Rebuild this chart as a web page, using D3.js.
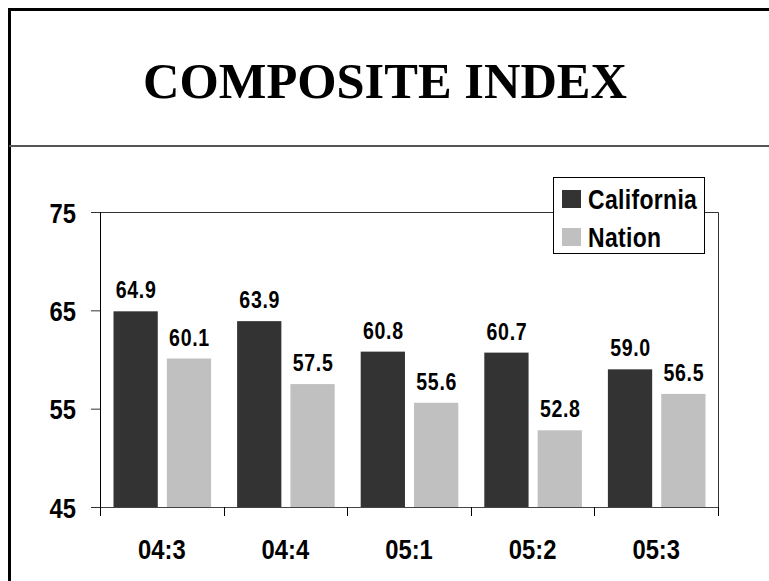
<!DOCTYPE html>
<html>
<head>
    <meta charset="UTF-8">
    <title>Composite Index</title>
    <style>
        body {
            margin: 0;
            background-color: white;
        }
        svg text {
            font-family: "Liberation Sans", Arial, sans-serif;
            font-weight: bold;
        }
    </style>
</head>
<body>
    <svg></svg>
    <script src="https://d3js.org/d3.v7.min.js"></script>
    <script>
        let quarters = ["04:3", "04:4", "05:1", "05:2", "05:3"]
        let seriesNames = ["California", "Nation"]
        let california = [64.9, 63.9, 60.8, 60.7, 59.0]
        let nation = [60.1, 57.5, 55.6, 52.8, 56.5]
        let yTicks = [45, 55, 65, 75]

        let colors = d3.scaleOrdinal(seriesNames, ["#333333", "#c0c0c0"])

        let width = 769, height = 581;
        let margin = { top: 212, right: 51, bottom: 74, left: 100 };
        let squeezeK = 0.85; // no narrow font installed, so squeeze sans horizontally

        let svg = d3.select("svg")
            .attr("width", width)
            .attr("height", height)

        // squeeze text horizontally around its own anchor point
        function squeeze(sel) {
            sel.each(function () {
                let t = d3.select(this)
                let x = +t.attr("x") || 0
                t.attr("x", x / squeezeK).attr("transform", "scale(" + squeezeK + ",1)")
            })
        }

        // outer frame and title divider
        svg.append("rect")
            .attr("x", 9.5).attr("y", 9.5)
            .attr("width", width + 20).attr("height", height + 20)
            .attr("fill", "none")
            .attr("stroke", "black")
            .attr("stroke-width", 3)

        svg.append("line")
            .attr("x1", 9).attr("x2", width)
            .attr("y1", 146).attr("y2", 146)
            .attr("stroke", "#555")
            .attr("stroke-width", 2)

        svg.append("text")
            .attr("x", 385).attr("y", 98)
            .attr("text-anchor", "middle")
            .style("font-family", "'Liberation Serif', 'Times New Roman', serif")
            .style("font-size", "50.5px")
            .text("COMPOSITE INDEX")

        let data = quarters.map((q, i) => ({ quarter: q, California: california[i], Nation: nation[i] }))

        let x0 = d3.scaleBand()
            .domain(quarters)
            .range([margin.left, width - margin.right])
            .paddingInner(0)
            .paddingOuter(0)

        let x1 = d3.scaleBand()
            .domain(seriesNames)
            .range([13.5, x0.bandwidth() - 12.5])
            .paddingInner(0.17)

        let y = d3.scaleLinear()
            .domain([45, 75])
            .range([height - margin.bottom, margin.top])

        // plot frame (top and right)
        svg.append("path")
            .attr("d", "M" + margin.left + "," + (margin.top + 0.5) + "H" + (width - margin.right + 0.5) + "V" + y(45))
            .attr("fill", "none")
            .attr("stroke", "#333")
            .attr("stroke-width", 1)

        // bars
        let groups = svg.append("g")
            .selectAll("g")
            .data(data)
            .enter()
            .append("g")
            .attr("transform", d => "translate(" + x0(d.quarter) + ",0)")

        groups.selectAll("rect")
            .data(d => seriesNames.map(s => ({ key: s, value: d[s] })))
            .enter()
            .append("rect")
            .attr("x", d => x1(d.key))
            .attr("y", d => y(d.value))
            .attr("width", x1.bandwidth())
            .attr("height", d => y(45) - y(d.value))
            .attr("fill", d => colors(d.key))

        groups.selectAll("text")
            .data(d => seriesNames.map(s => ({ key: s, value: d[s] })))
            .enter()
            .append("text")
            .attr("x", d => x1(d.key) + x1.bandwidth() / 2 + 0.5)
            .attr("y", d => y(d.value) - 13)
            .attr("text-anchor", "middle")
            .style("font-size", "23px")
            .style("letter-spacing", "0.8px")
            .text(d => d.value.toFixed(1))
            .call(squeeze)

        // axes
        let yAxis = svg.append("g")
            .attr("transform", "translate(" + margin.left + ",0)")
            .call(d3.axisLeft(y).tickValues(yTicks).tickSize(9).tickPadding(15))
        yAxis.select(".domain").attr("stroke", "black")
        yAxis.selectAll("line").attr("stroke", "#333")
        yAxis.selectAll("text")
            .attr("dy", "0.36em")
            .style("font-size", "28px")
            .attr("fill", "black")
            .call(squeeze)

        let xAxis = svg.append("g")
            .attr("transform", "translate(0," + y(45) + ")")
            .call(d3.axisBottom(x0).tickSize(0).tickPadding(32))
        xAxis.select(".domain").remove()
        xAxis.selectAll("text")
            .style("font-size", "28px")
            .attr("fill", "black")
            .call(squeeze)

        svg.append("line")
            .attr("x1", margin.left).attr("x2", width - margin.right + 0.5)
            .attr("y1", y(45) + 0.5).attr("y2", y(45) + 0.5)
            .attr("stroke", "#444")

        // tick marks at band boundaries
        let bounds = quarters.map(q => x0(q)).concat([width - margin.right])
        svg.append("g")
            .selectAll("line")
            .data(bounds)
            .enter()
            .append("line")
            .attr("x1", d => Math.round(d) + 0.5).attr("x2", d => Math.round(d) + 0.5)
            .attr("y1", y(45)).attr("y2", y(45) + 9)
            .attr("stroke", "black")

        // legend
        let legend = svg.append("g").attr("transform", "translate(553,177)")
        legend.append("rect")
            .attr("x", 0.5).attr("y", 0.5)
            .attr("width", 151).attr("height", 76)
            .attr("fill", "white")
            .attr("stroke", "black")
        let items = legend.selectAll(".item")
            .data(seriesNames)
            .enter()
            .append("g")
            .attr("transform", (d, i) => "translate(9," + (13 + i * 38) + ")")
        items.append("rect")
            .attr("width", 19).attr("height", 18)
            .attr("fill", d => colors(d))
        items.append("text")
            .attr("x", 26).attr("y", 18.5)
            .style("font-size", "27px")
            .style("letter-spacing", "0.4px")
            .text(d => d)
            .call(squeeze)
    </script>
</body>
</html>
